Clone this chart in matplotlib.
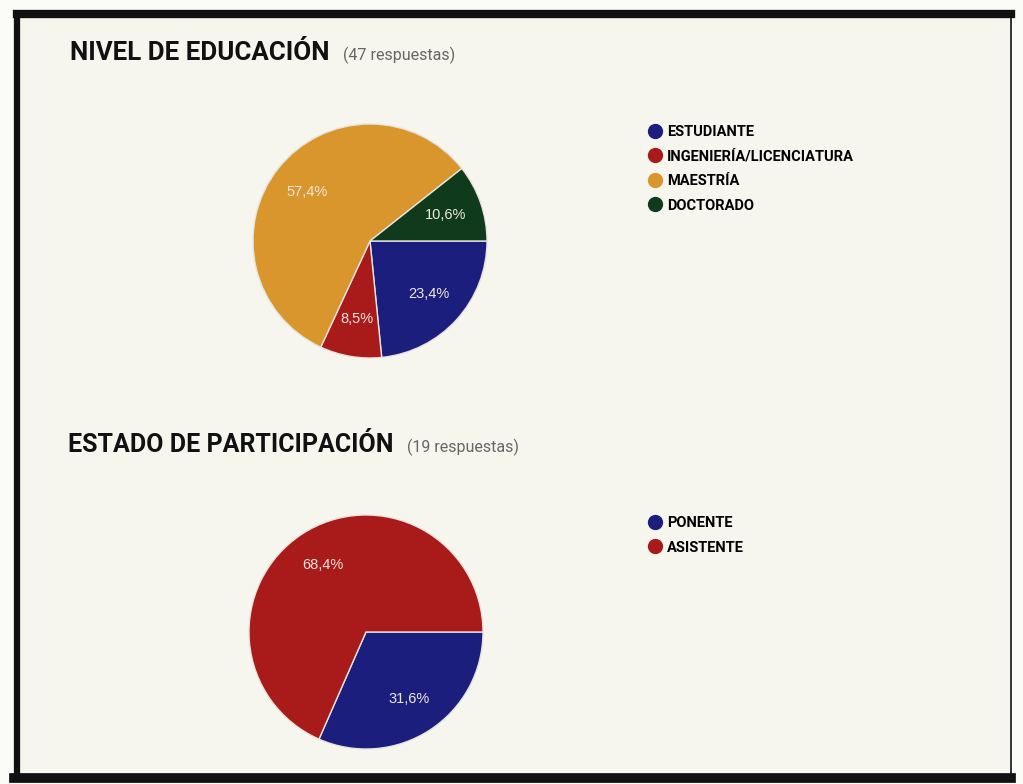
import matplotlib.pyplot as plt
from matplotlib.lines import Line2D
from matplotlib.patches import Rectangle

# datos
edu_labels = ["ESTUDIANTE", "INGENIERÍA/LICENCIATURA", "MAESTRÍA", "DOCTORADO"]
edu_counts = [11, 4, 27, 5]  # 47 respuestas
edu_colors = ["#1b1e7c", "#a91a1a", "#d8962c", "#0f3a1c"]

part_labels = ["PONENTE", "ASISTENTE"]
part_counts = [6, 13]  # 19 respuestas
part_colors = ["#1b1e7c", "#a91a1a"]

W, H = 1023, 784
plt.rcParams["font.family"] = ["Roboto", "DejaVu Sans"]

fig = plt.figure(figsize=(W / 100, H / 100), dpi=100, facecolor="#fbfbf7")

# fondo interior y marco negro del escaneo
fig.patches.append(Rectangle((16 / W, 1 - 776 / H), 996 / W, 762 / H,
                             transform=fig.transFigure, facecolor="#f7f6ee",
                             edgecolor="none", zorder=-5))
frame = [((17, 14), (1011, 14), 6), ((17, 14), (17, 777), 4.5),
         ((14, 778), (1011, 778), 7), ((1011, 14), (1011, 778), 1.2)]
for (x0, y0), (x1, y1), lw in frame:
    fig.add_artist(Line2D([x0 / W, x1 / W], [1 - y0 / H, 1 - y1 / H],
                          color="#111111", lw=lw, transform=fig.transFigure))


def pct_fmt(p):
    return f"{p:.1f}%".replace(".", ",")


def draw_pie(cx, cy, r, counts, colors):
    ax = fig.add_axes([(cx - r) / W, 1 - (cy + r) / H, 2 * r / W, 2 * r / H])
    ax.set_zorder(3)
    ax.patch.set_alpha(0)
    ax.pie(counts, colors=colors, startangle=0, counterclock=False,
           autopct=pct_fmt, pctdistance=0.68,
           wedgeprops=dict(edgecolor="#e6e4dc", linewidth=1),
           textprops=dict(color="#efe6dc", fontsize=10.5,
                          family=["Liberation Sans", "DejaVu Sans"]))
    ax.set_xlim(-1, 1)
    ax.set_ylim(-1, 1)
    ax.set_aspect("equal")
    ax.axis("off")
    return ax


def draw_legend(x, y, labels, colors):
    handles = [Line2D([], [], marker="o", linestyle="none", markersize=10,
                      markerfacecolor=c, markeredgecolor=c) for c in colors]
    fig.legend(handles, labels, loc="upper left",
               bbox_to_anchor=(x / W, 1 - y / H), frameon=False,
               labelspacing=0.72, handlelength=0.7,
               handletextpad=0.45, borderpad=0, borderaxespad=0,
               prop=dict(family="Roboto", weight="bold", size=10.5))


def draw_title(x, y, title, size, sub, sub_x):
    fig.text(x / W, 1 - y / H, title, fontsize=size, fontweight="bold",
             color="#111111", va="baseline", ha="left")
    fig.text(sub_x / W, 1 - y / H, sub, fontsize=11.5, color="#666666",
             va="baseline", ha="left")


draw_title(70, 60, "NIVEL DE EDUCACIÓN", 18.6, "(47 respuestas)", 343)
draw_pie(370, 241, 117, edu_counts, edu_colors)
draw_legend(650, 125, edu_labels, edu_colors)

draw_title(68, 452, "ESTADO DE PARTICIPACIÓN", 18.0, "(19 respuestas)", 407)
draw_pie(366, 632, 117, part_counts, part_colors)
draw_legend(650, 516, part_labels, part_colors)

fig.savefig("out.png", dpi=100, facecolor=fig.get_facecolor())
